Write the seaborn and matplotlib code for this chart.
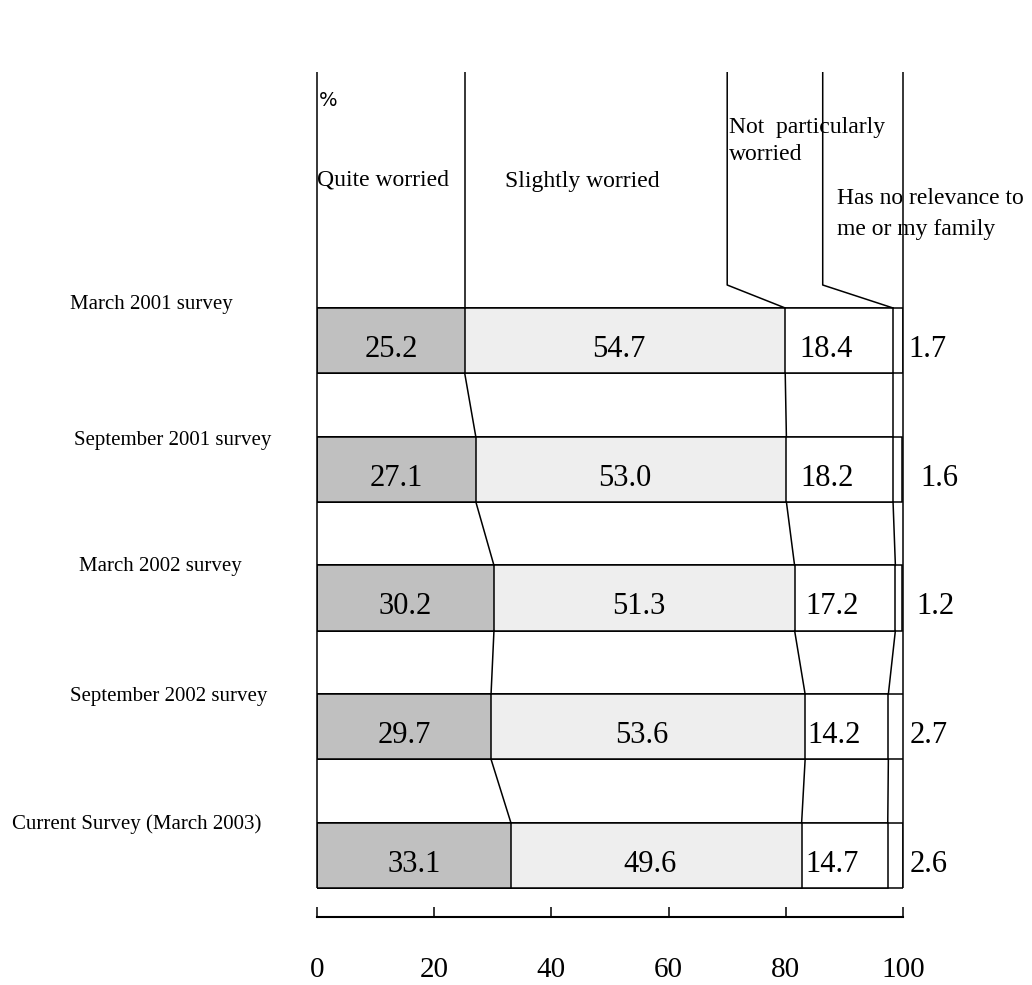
import matplotlib
matplotlib.use("Agg")
import matplotlib.pyplot as plt
import seaborn as sns
import numpy as np
import pandas as pd

# ---------------- data ----------------
surveys = ["March 2001 survey", "September 2001 survey", "March 2002 survey",
           "September 2002 survey", "Current Survey (March 2003)"]
quite_worried = [25.2, 27.1, 30.2, 29.7, 33.1]
slightly_worried = [54.7, 53.0, 51.3, 53.6, 49.6]
not_particularly = [18.4, 18.2, 17.2, 14.2, 14.7]
no_relevance = [1.7, 1.6, 1.2, 2.7, 2.6]
series_names = ["Quite worried", "Slightly worried", "Not  particularly\nworried",
                "Has no relevance to\nme or my family"]
x_ticks = [0, 20, 40, 60, 80, 100]

# ---------------- style ----------------
sns.set_theme(style="white")
plt.rcParams["font.family"] = ["Liberation Serif", "DejaVu Serif"]
plt.rcParams["text.color"] = "black"
plt.rcParams["xtick.color"] = "black"
plt.rcParams["xtick.labelcolor"] = "black"
colors = ["#c0c0c0", "#eeeeee", "#ffffff", "#ffffff"]
LW = 1.1
BAR_H = 0.505

W, H = 1032, 985
fig = plt.figure(figsize=(W / 100, H / 100), dpi=100)
# axes: x 0..100 -> px 317..903, y rows; top px 72, bottom px 917
ax = fig.add_axes([317 / W, 1 - 917 / H, (903 - 317) / W, (917 - 72) / H])

vals = np.array([quite_worried, slightly_worried, not_particularly, no_relevance])
cum = np.cumsum(vals, axis=0)

df = pd.DataFrame({"survey": surveys})
for k in range(3, -1, -1):
    df["cum"] = cum[k]
    sns.barplot(data=df, x="cum", y="survey", orient="h", order=surveys,
                color=colors[k], edgecolor="black", linewidth=LW,
                width=BAR_H, saturation=1, ax=ax)

PX = 128.75
y_top = (72 - 340.5) / PX
y_bot = (917 - 340.5) / PX
ax.set_xlim(0, 100)
ax.set_ylim(y_bot, y_top)
ax.set_ylabel("")
ax.set_xlabel("")
ax.set_yticks([])

# spines / bottom axis
for s in ["top", "left", "right"]:
    ax.spines[s].set_visible(False)
ax.spines["bottom"].set_color("black")
ax.spines["bottom"].set_linewidth(1.5)
ax.set_xticks(x_ticks)
ax.set_xticklabels([str(t) for t in x_ticks], fontsize=21, color="black")
ax.tick_params(axis="x", direction="in", length=7.5, width=1.1, color="black",
               pad=29, bottom=True)

n = len(surveys)
half = BAR_H / 2
# frame lines
ax.vlines([0, 100], y_top, n - 1 + half, color="black", lw=LW, zorder=5,
          clip_on=False)
# series (connector) lines between bars
for k in range(3):
    for i in range(n - 1):
        ax.plot([cum[k][i], cum[k][i + 1]], [i + half, i + 1 - half],
                color="black", lw=LW, zorder=5)

# leader lines from header labels
elbow = (285 - 340.5) / PX
ax.plot([quite_worried[0], quite_worried[0]], [y_top, -half], color="black", lw=LW)
ax.plot([70.0, 70.0, cum[1][0]], [y_top, elbow, -half], color="black", lw=LW)
ax.plot([86.3, 86.3, cum[2][0]], [y_top, elbow, -half], color="black", lw=LW)

# value labels
right_off = [1.0, 3.0, 2.2, 1.2, 1.2]
for i in range(n):
    yb = i + 0.128
    ax.text(quite_worried[i] / 2, yb, f"{quite_worried[i]:.1f}", ha="center",
            va="baseline", fontsize=22, zorder=6)
    ax.text(cum[0][i] + slightly_worried[i] / 2 - 1, yb, f"{slightly_worried[i]:.1f}",
            ha="center", va="baseline", fontsize=22, zorder=6)
    ax.text(cum[1][i] + not_particularly[i] / 2 - 2.2, yb, f"{not_particularly[i]:.1f}",
            ha="center", va="baseline", fontsize=22, zorder=6)
    ax.text(100 + right_off[i], yb, f"{no_relevance[i]:.1f}", ha="left",
            va="baseline", fontsize=22, zorder=6, clip_on=False)

# header labels
def py(p):
    return (p - 340.5) / PX

ax.text(0.4, py(100), "%", ha="left", va="center", fontsize=14,
        family=["DejaVu Sans"], clip_on=False)
ax.text(0, py(180), series_names[0], ha="left", va="center", fontsize=17)
ax.text(45.2, py(182), series_names[1], ha="center", va="center", fontsize=17)
l1, l2 = series_names[2].split("\n")
ax.text(70.3, py(127), l1, ha="left", va="center", fontsize=17)
ax.text(70.3, py(155), l2, ha="left", va="center", fontsize=17)
h1, h2 = series_names[3].split("\n")
ax.text(88.8, py(198), h1, ha="left", va="center", fontsize=17, clip_on=False)
ax.text(88.8, py(230), h2, ha="left", va="center", fontsize=17, clip_on=False)

# category labels (left)
label_pos = [(151, 305), (173, 440), (160, 567), (169, 696), (137, 824)]
for name, (lx, ly) in zip(surveys, label_pos):
    fig.text(lx / W, 1 - ly / H, name, ha="center", va="center", fontsize=15)

fig.savefig("out.png", dpi=100)
